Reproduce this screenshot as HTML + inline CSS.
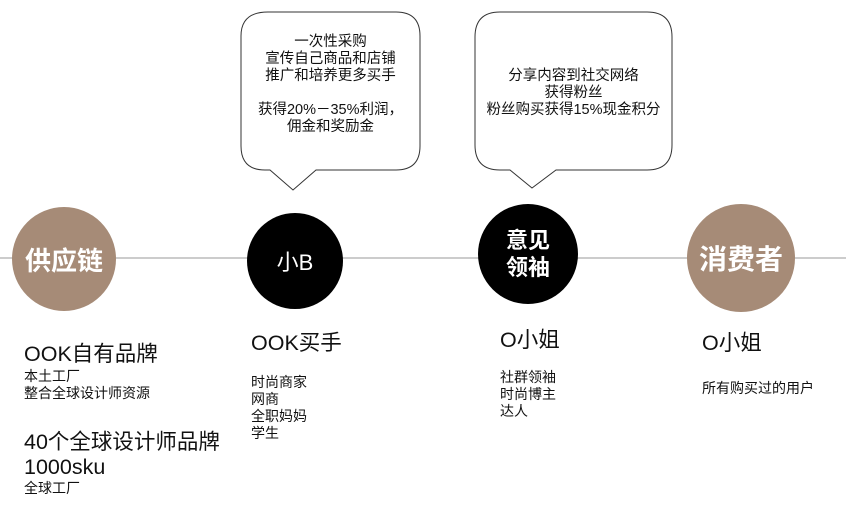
<!DOCTYPE html>
<html><head><meta charset="utf-8"><style>
body{margin:0;width:846px;height:506px;background:#fff;position:relative;overflow:hidden;font-family:"Liberation Sans","Noto Sans CJK SC",sans-serif;color:#111}
.t{position:absolute;white-space:nowrap}
.c{position:absolute;border-radius:50%;color:#fff;display:flex;align-items:center;justify-content:center;text-align:center;font-weight:bold}
.big{font-size:21.5px;line-height:25px}
.sm{font-size:14px;line-height:17px}
.bt{position:absolute;text-align:center;font-size:14.5px;line-height:17px}
</style></head><body>
<svg width="846" height="506" style="position:absolute;left:0;top:0">
<line x1="0" y1="258" x2="846" y2="258" stroke="#bbb" stroke-width="1.5"/>
<path d="M268 12 H396 Q420 12 420 36 V146 Q420 170 396 170 H316 L293 190 L270 170 H265 Q241 170 241 146 V36 Q241 12 268 12 Z" fill="#fff" stroke="#333" stroke-width="1"/>
<path d="M500 12 H647 Q672 12 672 37 V145 Q672 170 647 170 H556 L532 188 L510 170 H500 Q475 170 475 145 V37 Q475 12 500 12 Z" fill="#fff" stroke="#333" stroke-width="1"/>
</svg>
<div class="c" style="left:12px;top:207px;width:104px;height:104px;background:#a68b77;font-size:26px">供应链</div>
<div class="c" style="left:247px;top:213px;width:96px;height:96px;background:#000;font-size:22px;font-weight:normal">小B</div>
<div class="c" style="left:478px;top:204px;width:100px;height:100px;background:#000;font-size:22px;line-height:27px">意见<br>领袖</div>
<div class="c" style="left:687px;top:204px;width:108px;height:108px;background:#a68b77;font-size:28px">消费者</div>
<div class="bt" style="left:241px;width:179px;top:34px">一次性采购<br>宣传自己商品和店铺<br>推广和培养更多买手<br><br>获得20%－35%利润，<br>佣金和奖励金</div>
<div class="bt" style="left:475px;width:197px;top:68px">分享内容到社交网络<br>获得粉丝<br>粉丝购买获得15%现金积分</div>
<div class="t big" style="left:24px;top:342px">OOK自有品牌</div>
<div class="t sm" style="left:24px;top:368px">本土工厂<br>整合全球设计师资源</div>
<div class="t big" style="left:24px;top:430px;line-height:25px">40个全球设计师品牌<br>1000sku</div>
<div class="t sm" style="left:24px;top:480px">全球工厂</div>
<div class="t big" style="left:251px;top:331px">OOK买手</div>
<div class="t sm" style="left:251px;top:374px">时尚商家<br>网商<br>全职妈妈<br>学生</div>
<div class="t big" style="left:500px;top:328px">O小姐</div>
<div class="t sm" style="left:500px;top:369px">社群领袖<br>时尚博主<br>达人</div>
<div class="t big" style="left:702px;top:331px">O小姐</div>
<div class="t sm" style="left:702px;top:380px">所有购买过的用户</div>
</body></html>
